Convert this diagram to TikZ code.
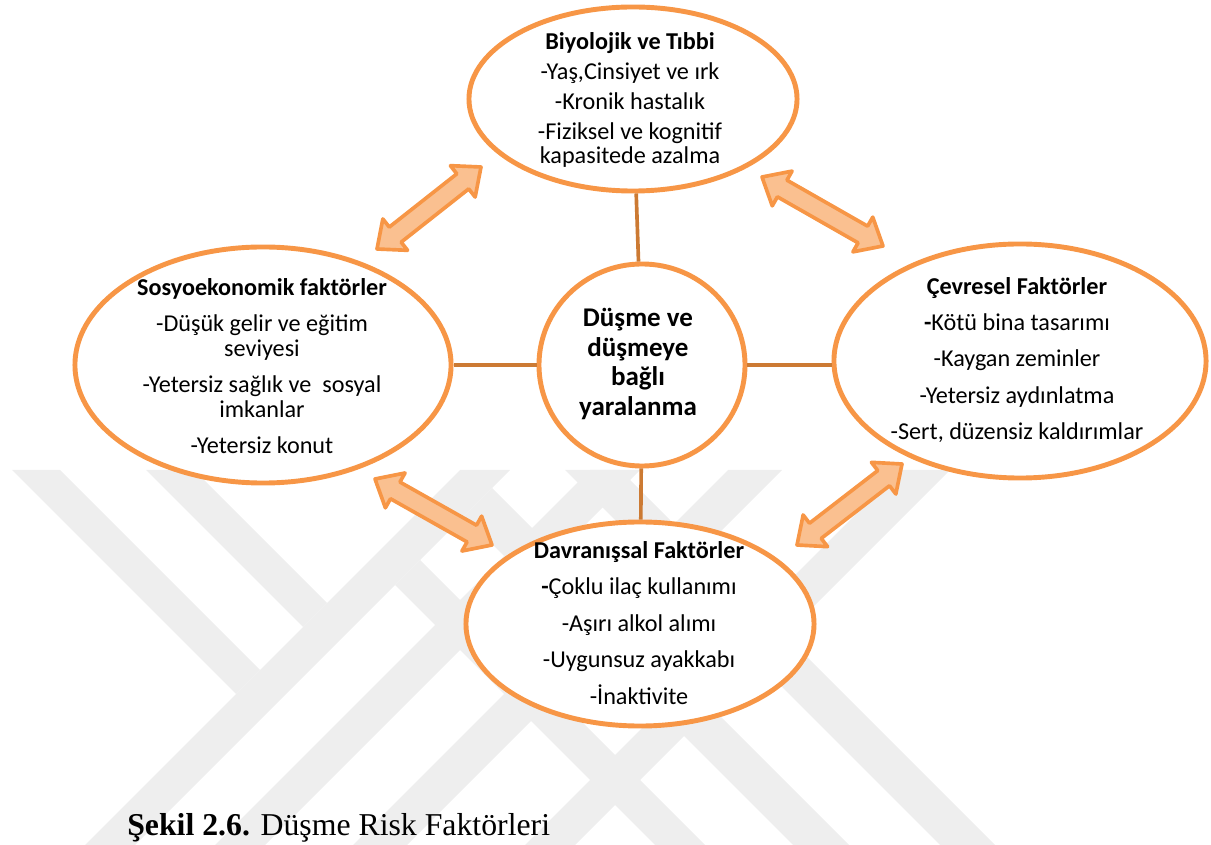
\documentclass[tikz,border=0pt]{standalone}
\usepackage{fontspec}
\setmainfont{Carlito}
\newfontfamily\capfont{Liberation Serif}
\usetikzlibrary{shapes.geometric,calc}
\definecolor{ellorange}{RGB}{247,150,70}
\definecolor{arrfill}{RGB}{250,192,144}
\definecolor{connbrown}{RGB}{204,122,51}
\definecolor{wmgray}{RGB}{238,238,238}
\newcommand{\hl}{0.58cm}
\newcommand{\hw}{0.5cm}
\newcommand{\sw}{0.24cm}
\newcommand{\blockarrow}[2]{%
  \draw[blk] (#1) -- ($(#1)!\hl!(#2)!\hw!90:(#2)$) -- ($(#1)!\hl!(#2)!\sw!90:(#2)$)
   -- ($(#2)!\hl!(#1)!\sw!-90:(#1)$) -- ($(#2)!\hl!(#1)!\hw!-90:(#1)$) -- (#2)
   -- ($(#2)!\hl!(#1)!\hw!90:(#1)$) -- ($(#2)!\hl!(#1)!\sw!90:(#1)$)
   -- ($(#1)!\hl!(#2)!\sw!-90:(#2)$) -- ($(#1)!\hl!(#2)!\hw!-90:(#2)$) -- cycle;}
\begin{document}
\begin{tikzpicture}[x=0.025cm,y=-0.025cm,
  ell/.style={ellipse, draw=ellorange, line width=3.5pt, fill=white, inner sep=0pt},
  txt/.style={align=center, font=\fontsize{17.2}{17.5}\selectfont, inner sep=0pt},
  ctxt/.style={align=center, font=\fontsize{19.2}{21}\selectfont\bfseries, inner sep=0pt},
  conn/.style={draw=connbrown, line width=2.6pt},
  wm/.style={fill=wmgray},
  blk/.style={draw=ellorange, fill=arrfill, line width=2.6pt, line join=round}]
\useasboundingbox (0,0) rectangle (1211,845);
% watermark
\fill[wm] (12,470) -- (60,470) -- (260,670) -- (236,694) -- cycle;
\fill[wm] (146,470) -- (194,470) -- (327,603) -- (303,627) -- cycle;
\fill[wm] (460,470) -- (510,470) -- (135,845) -- (85,845) -- cycle;
\fill[wm] (590,470) -- (640,470) -- (265,845) -- (215,845) -- cycle;
\fill[wm] (728,470) -- (782,470) -- (407,845) -- (353,845) -- cycle;
\fill[wm] (900,470) -- (950,470) -- (575,845) -- (525,845) -- cycle;
\fill[wm] (395,585) -- (420,560) -- (705,845) -- (655,845) -- cycle;
\fill[wm] (464,516) -- (492,488) -- (849,845) -- (793,845) -- cycle;
\fill[wm] (565,470) -- (620,470) -- (995,845) -- (940,845) -- cycle;
% ellipses
\node[ell, minimum width=8.2cm, minimum height=4.6cm] (bio) at (633,99) {};
\node[ell, minimum width=9.4cm, minimum height=5.9cm] (sos) at (263,365) {};
\node[ell, minimum width=5.15cm, minimum height=5.05cm] (cen) at (642,365) {};
\node[ell, minimum width=9.3cm, minimum height=5.85cm] (cev) at (1020,361) {};
\node[ell, minimum width=8.7cm, minimum height=5.1cm] (dav) at (640,624) {};
% connectors
\draw[conn] (bio) -- (cen);
\draw[conn] (sos) -- (cen);
\draw[conn] (cen.east) -- (cev.west |- cen.east);
\draw[conn] (cen) -- (dav);
% texts
\node[txt] (biot) at (630,100) {\textbf{Biyolojik ve Tıbbi}\\[3.8pt]-Yaş,Cinsiyet ve ırk\\[3.8pt]-Kronik hastalık\\[3.8pt]-Fiziksel ve kognitif\\kapasitede azalma};
\node[txt] (sost) at (262,366) {\textbf{Sosyoekonomik faktörler}\\[8.4pt]-Düşük gelir ve eğitim\\seviyesi\\[8.4pt]-Yetersiz sağlık ve\ \ sosyal\\imkanlar\\[8.4pt]-Yetersiz konut};
\node[ctxt] (cent) at (638,364) {Düşme ve\\düşmeye\\bağlı\\yaralanma};
\node[txt] (cevt) at (1017,360) {\textbf{Çevresel Faktörler}\\[8.4pt]\textbf{-}Kötü bina tasarımı\\[8.4pt]-Kaygan zeminler\\[8.4pt]-Yetersiz aydınlatma\\[8.4pt]-Sert, düzensiz kaldırımlar};
\node[txt] (davt) at (639,623) {\textbf{Davranışsal Faktörler}\\[8.4pt]\textbf{-}Çoklu ilaç kullanımı\\[8.4pt]-Aşırı alkol alımı\\[8.4pt]-Uygunsuz ayakkabı\\[8.4pt]-İnaktivite};
% block arrows
\coordinate (a1s) at (377,249); \coordinate (a1e) at (481,167);
\coordinate (a2s) at (762,177); \coordinate (a2e) at (883,246);
\coordinate (a3s) at (375,479); \coordinate (a3e) at (492,545);
\coordinate (a4s) at (797,545); \coordinate (a4e) at (902,464);
\blockarrow{a1s}{a1e}
\blockarrow{a2s}{a2e}
\blockarrow{a3s}{a3e}
\blockarrow{a4s}{a4e}
% caption
\node[anchor=base west, inner sep=0pt, font=\capfont\fontsize{22.6}{26}\selectfont] (cap) at (127,835) {\textbf{Şekil 2.6.} Düşme Risk Faktörleri};
\end{tikzpicture}
\end{document}
